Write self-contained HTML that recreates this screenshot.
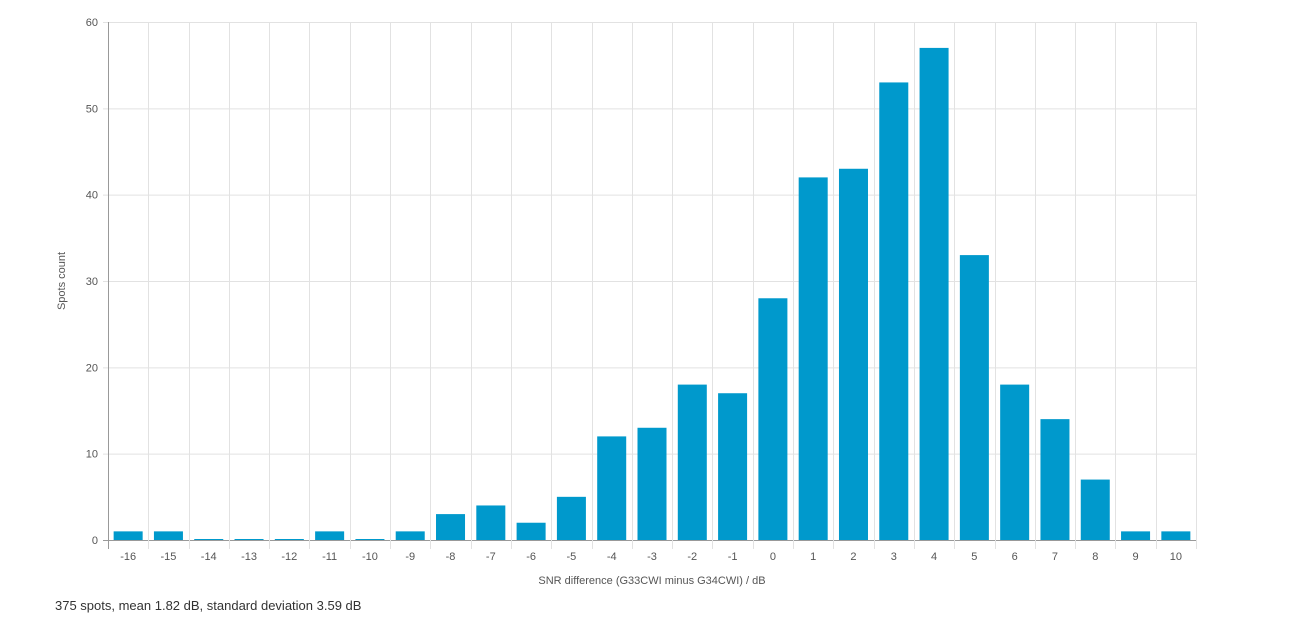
<!DOCTYPE html>
<html><head><meta charset="utf-8"><style>
body{margin:0;background:#fff;font-family:"Liberation Sans",sans-serif;}
#wrap{position:relative;width:1294px;height:626px;}
#note{position:absolute;left:55px;top:598px;font-size:13px;color:#333;}
</style></head><body>
<div id="wrap">
<svg id="chart" width="1294" height="626"></svg>
<div id="note">375 spots, mean 1.82 dB, standard deviation 3.59 dB</div>
</div>
<script>
const categories=[-16,-15,-14,-13,-12,-11,-10,-9,-8,-7,-6,-5,-4,-3,-2,-1,0,1,2,3,4,5,6,7,8,9,10];
const counts=[1,1,0,0,0,1,0,1,3,4,2,5,12,13,18,17,28,42,43,53,57,33,18,14,7,1,1];
const yTicks=[0,10,20,30,40,50,60];
const NS="http://www.w3.org/2000/svg";
const svg=document.getElementById('chart');
const L=108,R=1196,T=22,B=540,yMax=60;
const bw=(R-L)/categories.length;
const y=v=>B-(v/yMax)*(B-T);
const x=i=>L+i*bw;
function mk(t,a){const e=document.createElementNS(NS,t);for(const k in a)e.setAttribute(k,a[k]);svg.appendChild(e);return e;}
yTicks.forEach(v=>{
 const g=mk('line',{x1:L-5,x2:R,y1:y(v)+0.5,y2:y(v)+0.5,stroke:v===0?'#999':'#e2e2e2'});
 
 
 const t=mk('text',{x:L-10,y:y(v)+4,'text-anchor':'end','font-size':11,fill:'#555'});t.textContent=v;
 
 
});
for(let i=0;i<=categories.length;i++){
 const g=mk('line',{x1:Math.round(x(i))+0.5,x2:Math.round(x(i))+0.5,y1:T,y2:B+9,stroke:i===0?'#999':'#e2e2e2'});
 
 
}
categories.forEach((c,i)=>{
 const v=counts[i];
 const h=Math.max(B-y(v),1);
 const r=mk('rect',{x:x(i)+bw*0.14,y:B-h,width:bw*0.72,height:h,fill:'#0099cc'});
 
 
 const t=mk('text',{x:x(i)+bw/2,y:B+20,'text-anchor':'middle','font-size':11,fill:'#555'});t.textContent=c;
 
 
});
const xt=mk('text',{x:(L+R)/2,y:B+44,'text-anchor':'middle','font-size':11,fill:'#555'});
xt.textContent='SNR difference (G33CWI minus G34CWI) / dB';


const yt=mk('text',{x:0,y:0,'text-anchor':'middle','font-size':11,fill:'#555',transform:`translate(65,${(T+B)/2}) rotate(-90)`});
yt.textContent='Spots count';


</script>
</body></html>
